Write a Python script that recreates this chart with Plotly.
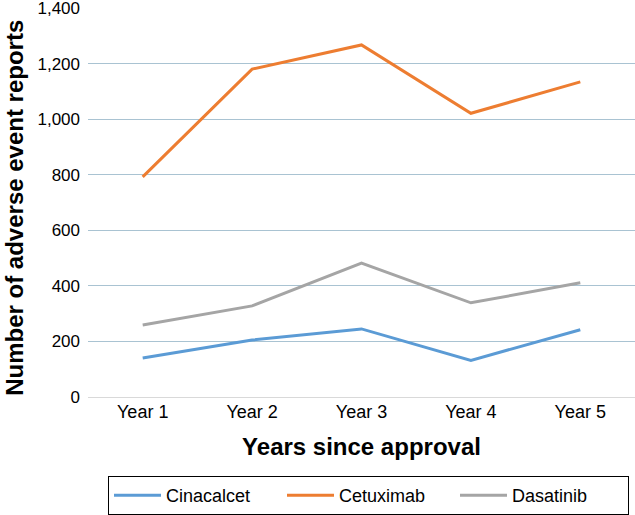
import plotly.graph_objects as go

years = ["Year 1", "Year 2", "Year 3", "Year 4", "Year 5"]
cinacalcet = [140, 205, 245, 132, 242]
cetuximab = [792, 1180, 1267, 1021, 1134]
dasatinib = [259, 328, 482, 339, 411]

series = [
    ("Cinacalcet", cinacalcet, "#5b9bd5"),
    ("Cetuximab", cetuximab, "#ed7d31"),
    ("Dasatinib", dasatinib, "#a5a5a5"),
]

fig = go.Figure()
for name, vals, color in series:
    fig.add_trace(go.Scatter(x=years, y=vals, name=name, mode="lines",
                             line=dict(color=color, width=3)))

font = "Liberation Sans, Arial, sans-serif"
fig.update_layout(
    width=635, height=515,
    margin=dict(l=88, r=0, t=8, b=118, autoexpand=False),
    paper_bgcolor="white", plot_bgcolor="white",
    font=dict(family=font, color="#000000", size=18),
    xaxis=dict(
        range=[-0.5, 4.5], automargin=False,
        showgrid=False, zeroline=False, showline=False,
        ticks="", tickfont=dict(size=18), ticklabelstandoff=2,
        title=dict(text="<b>Years since approval</b>", font=dict(size=24), standoff=17),
    ),
    yaxis=dict(
        range=[0, 1400], tickvals=[0, 200, 400, 600, 800, 1000, 1200, 1400],
        tickformat=",d", showgrid=True, gridcolor="#a9c3d2", gridwidth=1,
        zeroline=True, zerolinecolor="#d9d9d9", zerolinewidth=1,
        showline=False, ticks="", tickfont=dict(size=17), ticklabelstandoff=7,
        ticklabeloverflow="allow", automargin=False,
    ),
    annotations=[dict(
        text="<b>Number of adverse event reports</b>", textangle=-90,
        xref="paper", yref="paper", x=(14.5 - 88) / 547, y=0.485,
        xanchor="center", yanchor="middle", showarrow=False,
        font=dict(size=24, family=font, color="#000000"),
    )],
    legend=dict(
        orientation="h", xref="container", yref="container",
        x=108 / 635, xanchor="left", y=(515 - 476) / 515, yanchor="top",
        bordercolor="#000000", borderwidth=1, font=dict(size=18),
        entrywidth=111, entrywidthmode="pixels", itemwidth=47,
    ),
    showlegend=True,
)

fig.write_html("out.html", config={"displayModeBar": False},
               post_script="document.body.style.margin='0';")
